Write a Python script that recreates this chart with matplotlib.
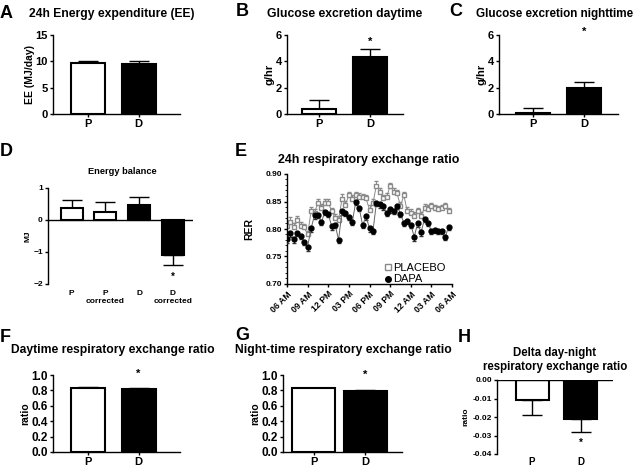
import matplotlib
matplotlib.use('Agg')
import matplotlib.pyplot as plt
from matplotlib.lines import Line2D
from matplotlib.ticker import MultipleLocator
import numpy as np

plt.rcParams['font.family'] = ['Liberation Sans', 'DejaVu Sans']
plt.rcParams['font.weight'] = 'bold'
plt.rcParams['axes.labelweight'] = 'bold'
plt.rcParams['axes.linewidth'] = 1.0
plt.rcParams['xtick.major.width'] = 1.0
plt.rcParams['ytick.major.width'] = 1.0
plt.rcParams['xtick.major.size'] = 2.5
plt.rcParams['ytick.major.size'] = 2.5

# ---- data ----
groups = ['P', 'D']
ee_mean = [9.6, 9.5]
ee_err = [0.5, 0.5]
glu_day_mean = [0.4, 4.3]
glu_day_err = [0.65, 0.65]
glu_night_mean = [0.05, 2.0]
glu_night_err = [0.4, 0.4]
balance_labels = ['P', 'P\ncorrected', 'D', 'D\ncorrected']
balance_mean = [0.38, 0.25, 0.47, -1.08]
balance_err = [0.24, 0.32, 0.25, 0.32]
rer_day_mean = [0.835, 0.815]
rer_day_err = [0.012, 0.010]
rer_night_mean = [0.825, 0.795]
rer_night_err = [0.012, 0.010]
rer_delta_mean = [-0.011, -0.021]
rer_delta_err = [0.008, 0.007]

hour_labels = ['06 AM', '09 AM', '12 PM', '03 PM', '06 PM', '09 PM', '12 AM', '03 AM', '06 AM']
sample_hours = np.arange(0, 24, 0.5)
placebo_rer = [0.806, 0.813, 0.804, 0.817, 0.806, 0.803, 0.790, 0.832, 0.829, 0.848,
               0.839, 0.848, 0.848, 0.832, 0.820, 0.817, 0.855, 0.844, 0.862, 0.855,
               0.862, 0.859, 0.858, 0.856, 0.835, 0.847, 0.879, 0.868, 0.856, 0.859,
               0.878, 0.868, 0.865, 0.842, 0.861, 0.832, 0.830, 0.824, 0.832, 0.824,
               0.838, 0.837, 0.841, 0.838, 0.836, 0.838, 0.841, 0.832]
placebo_sem = [0.007, 0.008, 0.006, 0.007, 0.006, 0.006, 0.007, 0.008, 0.007, 0.006,
               0.007, 0.006, 0.006, 0.007, 0.008, 0.007, 0.008, 0.007, 0.006, 0.007,
               0.006, 0.006, 0.006, 0.006, 0.008, 0.007, 0.009, 0.007, 0.006, 0.006,
               0.006, 0.007, 0.006, 0.007, 0.007, 0.008, 0.007, 0.007, 0.006, 0.007,
               0.007, 0.006, 0.006, 0.006, 0.006, 0.006, 0.006, 0.006]
dapa_rer = [0.782, 0.792, 0.781, 0.793, 0.787, 0.777, 0.768, 0.801, 0.825, 0.826,
            0.812, 0.831, 0.827, 0.805, 0.808, 0.780, 0.832, 0.830, 0.822, 0.813,
            0.849, 0.838, 0.807, 0.823, 0.801, 0.796, 0.847, 0.845, 0.841, 0.830,
            0.836, 0.833, 0.842, 0.828, 0.811, 0.815, 0.808, 0.786, 0.810, 0.794,
            0.818, 0.811, 0.796, 0.798, 0.797, 0.796, 0.785, 0.804]
dapa_sem = [0.007, 0.006, 0.006, 0.006, 0.006, 0.006, 0.008, 0.006, 0.006, 0.006,
            0.005, 0.006, 0.006, 0.006, 0.006, 0.005, 0.006, 0.006, 0.006, 0.006,
            0.006, 0.006, 0.006, 0.006, 0.006, 0.006, 0.006, 0.006, 0.006, 0.007,
            0.006, 0.006, 0.006, 0.006, 0.006, 0.006, 0.006, 0.008, 0.006, 0.006,
            0.006, 0.006, 0.006, 0.006, 0.006, 0.006, 0.005, 0.006]

W, H = 640, 470
fig = plt.figure(figsize=(W / 100, H / 100), dpi=100)


def rect(x0, y0, x1, y1):
    return [x0 / W, 1 - y1 / H, (x1 - x0) / W, (y1 - y0) / H]


def ftext(x, y, s, **kw):
    fig.text(x / W, 1 - y / H, s, **kw)


def bar_panel(r, c0, unit, bar_px, labels, means, errs, colors, ylim, yticks,
              ylabel, fs, lfs, zero_axis=False, yfmt=None, xfs=None, lpad=2):
    ax = fig.add_axes(rect(*r))
    n = len(means)
    x = np.arange(n)
    lo = [e if m < 0 else 0 for m, e in zip(means, errs)]
    hi = [e if m >= 0 else 0 for m, e in zip(means, errs)]
    ax.bar(x, means, width=bar_px / unit, color=colors, edgecolor='black',
           linewidth=1.5, zorder=2)
    ax.errorbar(x, means, yerr=[lo, hi], fmt='none', ecolor='black',
                elinewidth=1.0, capsize=7, capthick=1.0, zorder=1)
    ax.set_xlim((r[0] - c0) / unit, (r[2] - c0) / unit)
    ax.set_ylim(*ylim)
    ax.set_yticks(yticks)
    if yfmt:
        ax.set_yticklabels([yfmt.format(v) for v in yticks])
    ax.set_xticks(x)
    ax.set_xticklabels(labels)
    ax.tick_params(axis='y', labelsize=fs, pad=1.2)
    ax.tick_params(axis='x', labelsize=xfs or fs, pad=1.2)
    ax.set_ylabel(ylabel, fontsize=lfs, labelpad=lpad)
    for s in ['top', 'right']:
        ax.spines[s].set_visible(False)
    if zero_axis:
        ax.spines['bottom'].set_visible(False)
        ax.axhline(0, color='black', lw=1.0, zorder=3)
        ax.tick_params(axis='x', length=0, pad=4)
    return ax


def star(ax, x, y, fs=8):
    ax.annotate('*', (x, y), xytext=(0, -4), textcoords='offset points',
                ha='center', va='baseline', fontsize=fs, annotation_clip=False)


# A
axA = bar_panel((53, 35, 180, 114), 87.5, 51, 34, groups, ee_mean, ee_err,
                ['white', 'black'], (0, 15), [0, 5, 10, 15], 'EE (MJ/day)', 8, 7.5, lpad=0.5)
# B
axB = bar_panel((287, 35, 403, 114), 319, 51, 34, groups, glu_day_mean, glu_day_err,
                ['white', 'black'], (0, 6), [0, 2, 4, 6], 'g/hr', 8, 8, lpad=1)
star(axB, 1, 5.7)
# C
axC = bar_panel((499, 35, 618, 114), 533, 51, 34, groups, glu_night_mean, glu_night_err,
                ['white', 'black'], (0, 6), [0, 2, 4, 6], 'g/hr', 8, 8, lpad=1)
star(axC, 1, 6.45)
# D
axD = bar_panel((48, 188, 193, 284), 71.5, 33.8, 22, balance_labels, balance_mean,
                balance_err, ['white', 'white', 'black', 'black'], (-2, 1),
                [-2, -1, 0, 1], 'MJ', 6, 6, zero_axis=True, lpad=1)
star(axD, 3, -1.69, fs=7)
# F
axF = bar_panel((53, 375, 180, 452), 87.5, 51, 34, groups, rer_day_mean, rer_day_err,
                ['white', 'black'], (0, 1.0), [0, 0.2, 0.4, 0.6, 0.8, 1.0], 'ratio', 8.5, 7.5,
                yfmt='{:.1f}', xfs=8, lpad=1)
star(axF, 1, 1.05)
# G
axG = bar_panel((283, 375, 402, 452), 313.5, 51.5, 43, groups, rer_night_mean, rer_night_err,
                ['white', 'black'], (0, 1.0), [0, 0.2, 0.4, 0.6, 0.8, 1.0], 'ratio', 8.5, 7.5,
                yfmt='{:.1f}', xfs=8, lpad=1)
star(axG, 1, 1.04)
# H
axH = bar_panel((497, 380, 613, 454), 532, 48.5, 33, groups, rer_delta_mean, rer_delta_err,
                ['white', 'black'], (-0.04, 0), [-0.04, -0.03, -0.02, -0.01, 0.0], 'ratio', 6, 6,
                zero_axis=True, yfmt='{:.2f}', xfs=7)
axH.tick_params(axis='x', pad=2)
star(axH, 1, -0.0325, fs=7)

# E
axE = fig.add_axes(rect(287, 174, 452, 284))
zeros = [0] * len(sample_hours)
axE.errorbar(sample_hours, placebo_rer, yerr=[zeros, placebo_sem], fmt='-s', color='#8a8a8a',
             mfc='white', mec='#8a8a8a', ms=3, lw=0.7, elinewidth=0.7, capsize=1.5, zorder=2)
axE.errorbar(sample_hours, dapa_rer, yerr=[dapa_sem, zeros], fmt='-o', color='#666666',
             mfc='black', mec='black', ecolor='#333333', ms=3.5, lw=0.7, elinewidth=0.7,
             capsize=1.5, zorder=3)
axE.set_xlim(0, 24)
axE.set_ylim(0.70, 0.90)
axE.set_yticks([0.70, 0.75, 0.80, 0.85, 0.90])
axE.set_yticklabels(['0.70', '0.75', '0.80', '0.85', '0.90'])
axE.yaxis.set_minor_locator(MultipleLocator(0.01))
axE.set_xticks(np.arange(0, 25, 3))
axE.set_xticklabels(hour_labels, rotation=45, ha='right', rotation_mode='anchor')
axE.tick_params(axis='y', labelsize=6, pad=1.2)
axE.tick_params(axis='x', labelsize=6.3, pad=1.5)
axE.tick_params(axis='y', which='minor', length=1.2, width=0.6)
axE.set_ylabel('RER', fontsize=7.5, labelpad=8)
for s in ['top', 'right']:
    axE.spines[s].set_visible(False)
handles = [Line2D([], [], marker='s', ls='none', mfc='white', mec='#8a8a8a', ms=4),
           Line2D([], [], marker='o', ls='none', mfc='black', mec='black', ms=4)]
leg = axE.legend(handles, ['PLACEBO', 'DAPA'], loc='lower left', bbox_to_anchor=(0.558, -0.055),
                 frameon=False, fontsize=8, handlelength=0.6, handletextpad=0.15,
                 labelspacing=0.1, borderpad=0)
for t in leg.get_texts():
    t.set_fontweight('normal')

# titles
ftext(112, 14, '24h Energy expenditure (EE)', ha='center', va='center', fontsize=8.7)
ftext(345, 14, 'Glucose excretion daytime', ha='center', va='center', fontsize=8.7)
ftext(476, 14, 'Glucose excretion nighttime', ha='left', va='center', fontsize=8.4)
ftext(122, 171.5, 'Energy balance', ha='center', va='center', fontsize=6.7)
ftext(369, 159.5, '24h respiratory exchange ratio', ha='center', va='center', fontsize=8.9)
ftext(112.5, 350, 'Daytime respiratory exchange ratio', ha='center', va='center', fontsize=8.7)
ftext(343, 350, 'Night-time respiratory exchange ratio', ha='center', va='center', fontsize=8.7)
ftext(555, 360, 'Delta day-night\nrespiratory exchange ratio', ha='center', va='center',
      fontsize=8.3, linespacing=1.15)

# panel letters
for lab, x, y in [('A', 0, 13), ('B', 236, 12), ('C', 449, 11), ('D', 0, 151),
                  ('E', 235, 152), ('F', 0, 338), ('G', 235, 336), ('H', 458, 337)]:
    ftext(x, y, lab, ha='left', va='center', fontsize=13)

fig.savefig('out.png', dpi=100)
